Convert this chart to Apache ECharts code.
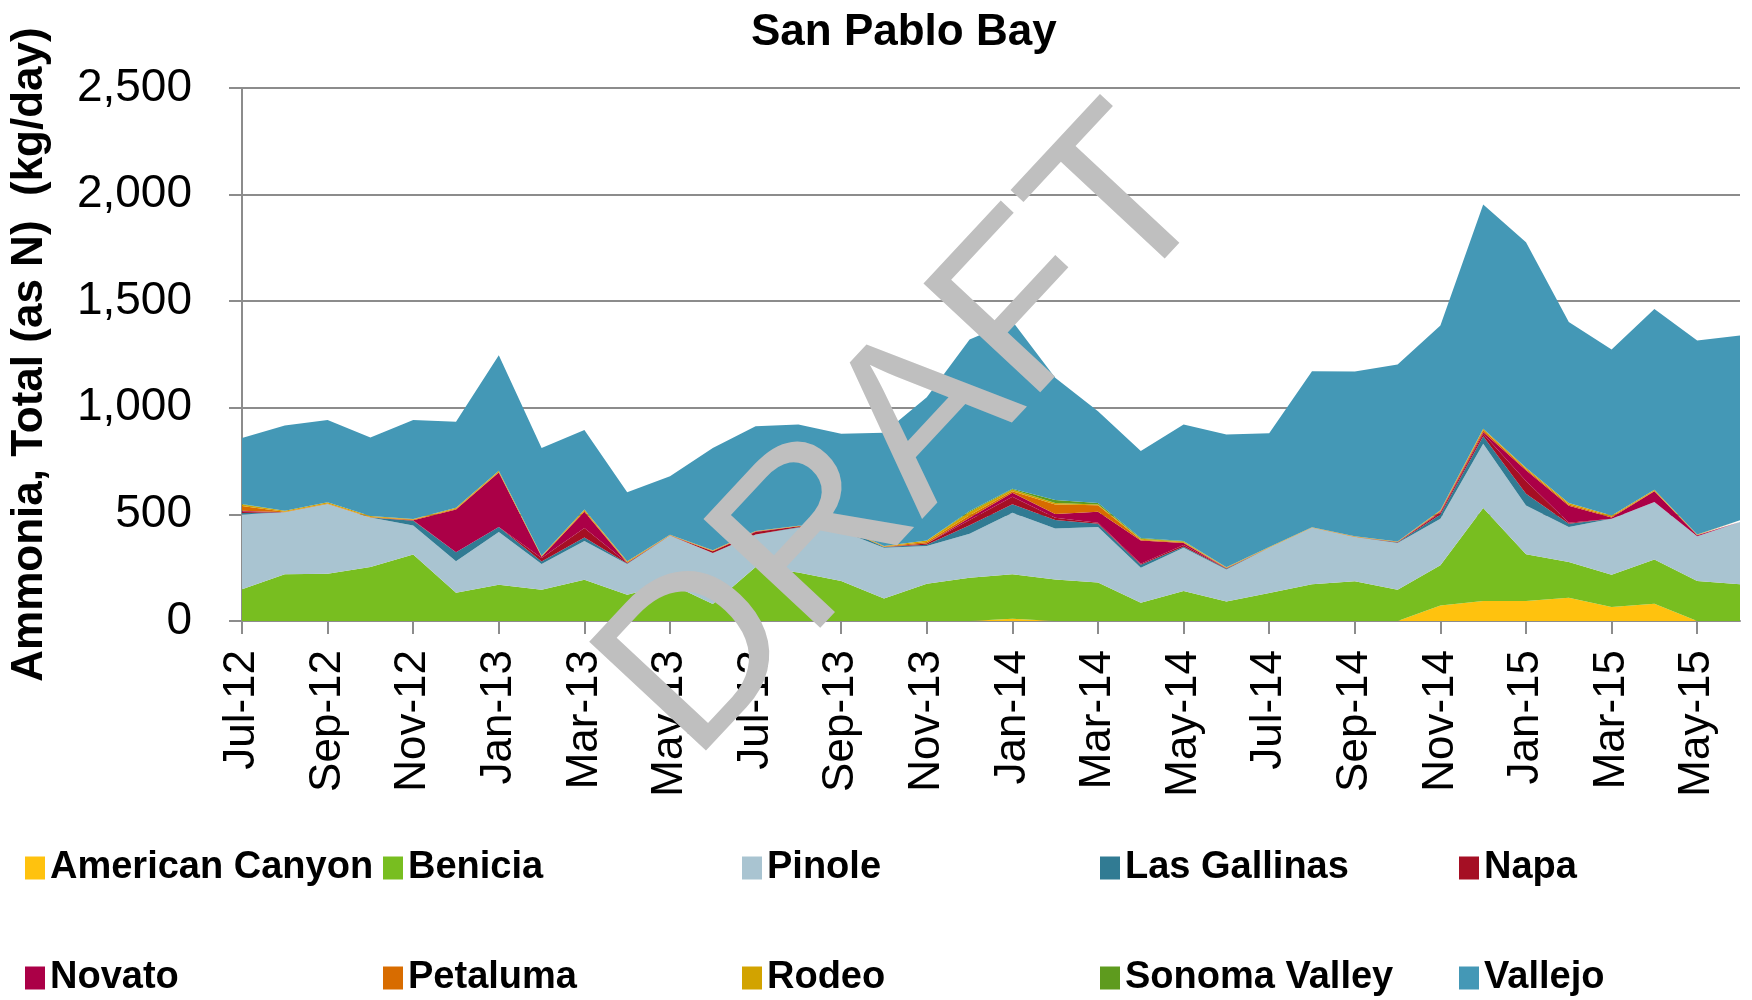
<!DOCTYPE html>
<html lang="en">
<head>
    <meta charset="UTF-8">
    <title>San Pablo Bay</title>
    <script src="https://cdn.jsdelivr.net/npm/echarts@6/dist/echarts.min.js"></script>
    <style>
        *{
            padding:0;
            margin:0;
        }
        html,body{
            height:100%;
            background:#fff;
        }
        #main{
            width:1752px;
            height:1000px;
        }
    </style>
</head>
<body>
<div id="main"></div>
<script>
    // monthly loads, kg/day
    var months = ['Jul-12','Aug-12','Sep-12','Oct-12','Nov-12','Dec-12','Jan-13','Feb-13','Mar-13','Apr-13','May-13','Jun-13',
        'Jul-13','Aug-13','Sep-13','Oct-13','Nov-13','Dec-13','Jan-14','Feb-14','Mar-14','Apr-14','May-14','Jun-14',
        'Jul-14','Aug-14','Sep-14','Oct-14','Nov-14','Dec-14','Jan-15','Feb-15','Mar-15','Apr-15','May-15','Jun-15'];
    var americanCanyon = [0,0,0,0,0,0,0,0,0,0,0,0,0,0,0,0,0,0,10,0,0,0,0,0,0,0,0,0,73,94,94,109,66,81,0,0];
    var benicia = [149,219,222,253,312,132,170,146,193,123,175,80,253,227,188,105,175,203,209,195,180,86,141,91,131,172,186,147,188,436,219,168,151,207,188,172];
    var pinole = [351,291,327,233,136,148,248,121,182,144,226,239,153,210,234,239,177,206,289,239,261,164,203,151,213,265,208,219,219,301,229,164,263,270,209,292];
    var lasGallinas = [6,0,0,0,22,43,23,12,17,3,0,0,0,3,16,3,6,40,40,40,15,14,4,3,0,0,0,2,20,35,55,15,0,0,0,0];
    var napa = [8,0,0,0,3,0,0,17,44,3,0,8,12,4,0,0,6,25,35,10,5,5,8,3,0,0,0,3,8,12,60,5,0,0,0,0];
    var novato = [3,0,0,0,0,200,255,5,77,0,0,0,2,0,0,0,0,10,18,18,52,108,10,0,0,0,0,0,5,8,50,80,6,50,5,0];
    var petaluma = [22,2,2,2,3,3,3,0,4,3,2,2,0,0,3,2,6,12,8,44,30,4,3,2,1,1,2,0,3,10,6,6,4,3,1,3];
    var rodeo = [8,5,6,4,3,5,6,5,6,4,2,3,2,3,4,3,8,15,8,8,4,5,4,2,2,2,2,2,3,6,6,6,5,5,3,5];
    var sonomaValley = [2,0,0,0,0,0,0,0,0,0,0,0,0,0,0,0,0,5,3,14,6,3,2,0,0,0,0,0,0,0,0,0,0,0,0,0];
    var vallejo = [309,400,386,369,464,403,541,506,373,324,274,480,492,475,433,531,672,804,786,573,431,408,547,623,534,732,772,830,867,1051,1058,849,778,848,910,867];
    var yTicks = [0,500,1000,1500,2000,2500];

    var names = ['American Canyon','Benicia','Pinole','Las Gallinas','Napa','Novato','Petaluma','Rodeo','Sonoma Valley','Vallejo'];
    var values = [americanCanyon,benicia,pinole,lasGallinas,napa,novato,petaluma,rodeo,sonomaValley,vallejo];
    var colors = ['#FFC20E','#78BE20','#A9C4D1','#317B93','#A50F24','#AB0047','#D86C00','#D2A300','#5E9B1E','#4498B6'];

    var boldFont = '"Liberation Sans Narrow","Arial Narrow","Liberation Sans",Arial,sans-serif';
    var plain = '"Liberation Sans",Arial,sans-serif';

    var series = [];
    for (var i = 0; i < names.length; i++) {
        series.push({
            name: names[i],
            type: 'line',
            stack: 'all',
            symbol: 'none',
            lineStyle: {width: 0},
            areaStyle: {color: colors[i], opacity: 1},
            itemStyle: {color: colors[i]},
            data: values[i]
        });
    }

    // legend: 2 rows x 5 columns
    var legends = [];
    var colX = [25, 383, 742, 1100, 1459];
    var rowY = [849, 959];
    for (var k = 0; k < names.length; k++) {
        legends.push({
            data: [names[k]],
            left: colX[k % 5],
            top: rowY[Math.floor(k / 5)],
            padding: 0,
            icon: 'rect',
            itemWidth: 20,
            itemHeight: 23,
            itemGap: 10,
            selectedMode: false,
            textStyle: {
                fontFamily: boldFont,
                fontWeight: 'bold',
                fontSize: 38,
                color: '#000'
            }
        });
    }

    var myChart = echarts.init(document.getElementById('main'));
    var option = {
        animation: false,
        color: colors,
        title: {
            text: 'San Pablo Bay',
            left: 746,
            top: 6,
            textStyle: {
                fontFamily: boldFont,
                fontWeight: 'bold',
                fontSize: 44,
                color: '#000'
            }
        },
        legend: legends,
        grid: {
            left: 242,
            right: 12,
            top: 88,
            bottom: 379,
            containLabel: false,
            outerBoundsMode: 'none'
        },
        xAxis: {
            type: 'category',
            boundaryGap: false,
            data: months,
            axisLine: {lineStyle: {color: '#8c8c8c', width: 2}},
            axisTick: {show: true, interval: 1, length: 13, lineStyle: {color: '#8c8c8c', width: 2}},
            axisLabel: {
                interval: 1,
                rotate: 90,
                margin: 29,
                fontFamily: plain,
                fontSize: 44,
                color: '#000'
            },
            splitLine: {show: false}
        },
        yAxis: {
            type: 'value',
            min: yTicks[0],
            max: yTicks[yTicks.length - 1],
            interval: 500,
            name: 'Ammonia, Total (as N)  (kg/day)',
            nameLocation: 'middle',
            nameGap: 190,
            nameTextStyle: {
                fontFamily: boldFont,
                fontWeight: 'bold',
                fontSize: 44,
                color: '#000'
            },
            axisLine: {show: true, lineStyle: {color: '#8c8c8c', width: 2}},
            axisTick: {show: true, length: 13, lineStyle: {color: '#8c8c8c', width: 2}},
            axisLabel: {
                margin: 50,
                fontFamily: plain,
                fontSize: 46,
                color: '#000',
                formatter: function (v) {
                    return v.toLocaleString('en-US');
                }
            },
            splitLine: {lineStyle: {color: '#8c8c8c', width: 2}}
        },
        graphic: [{
            type: 'text',
            x: 910,
            y: 438,
            rotation: 47 * Math.PI / 180,
            z: 100,
            silent: true,
            style: {
                text: 'DRAFT',
                fill: '#BFBFBF',
                font: '232px "Liberation Sans", Arial, sans-serif',
                align: 'center',
                verticalAlign: 'middle',
                textAlign: 'center',
                textVerticalAlign: 'middle'
            }
        }],
        series: series
    };
    myChart.setOption(option);
</script>
</body>
</html>
